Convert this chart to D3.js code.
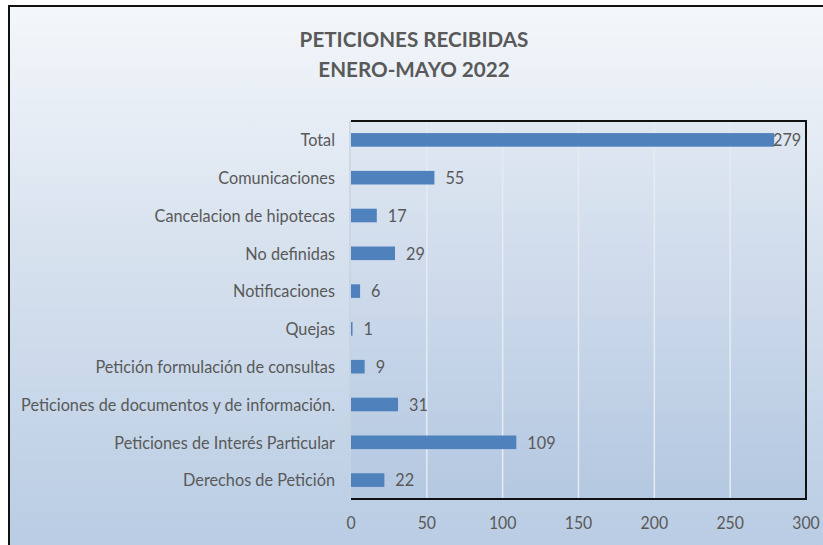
<!DOCTYPE html>
<html>
<head>
<meta charset="utf-8">
<script src="https://cdn.jsdelivr.net/npm/d3@7"></script>
<style>
  body { margin: 0; background: #fff; }
  svg { display: block; }
</style>
</head>
<body>
<svg id="chart" width="823" height="545"></svg>
<script>
const titleLines = ['PETICIONES RECIBIDAS', 'ENERO-MAYO 2022']
const categories = [
    'Total',
    'Comunicaciones',
    'Cancelacion de hipotecas',
    'No definidas',
    'Notificaciones',
    'Quejas',
    'Petición formulación de consultas',
    'Peticiones de documentos y de información.',
    'Peticiones de Interés Particular',
    'Derechos de Petición'
]
const values = [279, 55, 17, 29, 6, 1, 9, 31, 109, 22]
const xTicks = [0, 50, 100, 150, 200, 250, 300]

const svg = d3.select('#chart')
const font = 'Lato, "Open Sans", sans-serif'
const textColor = '#595959'
const plot = { left: 351, right: 806, top: 121, bottom: 499 }

// gradients
const defs = svg.append('defs')
const bgGrad = defs.append('linearGradient').attr('id', 'bg').attr('x1', 0).attr('y1', 0).attr('x2', 0).attr('y2', 1)
bgGrad.append('stop').attr('offset', '0%').attr('stop-color', '#f4f7fb')
bgGrad.append('stop').attr('offset', '40%').attr('stop-color', '#d9e3ef')
bgGrad.append('stop').attr('offset', '100%').attr('stop-color', '#b7cbe3')

const plotGrad = defs.append('linearGradient').attr('id', 'plotbg').attr('x1', 0).attr('y1', 0).attr('x2', 0).attr('y2', 1)
plotGrad.append('stop').attr('offset', '0%').attr('stop-color', '#e0e8f2')
plotGrad.append('stop').attr('offset', '100%').attr('stop-color', '#b4c8e1')

// chart area with outer border (left and top edges visible)
svg.append('rect')
    .attr('x', 9).attr('y', 6)
    .attr('width', 830).attr('height', 560)
    .attr('fill', 'url(#bg)')
    .attr('stroke', '#111')
    .attr('stroke-width', 2)

// title
const titleStretch = 0.96
svg.append('g')
    .selectAll('text')
    .data(titleLines)
    .join('text')
    .attr('transform', (d, i) => `translate(414,${47 + i * 30}) scale(${titleStretch},1)`)
    .attr('text-anchor', 'middle')
    .style('font-family', font)
    .style('font-weight', 'bold')
    .style('font-size', '21.5px')
    .attr('fill', textColor)
    .text(d => d)

const x = d3.scaleLinear()
    .domain([0, 300])
    .range([plot.left, plot.right])

const pad = 0.64
const y = d3.scaleBand()
    .domain(categories)
    .range([plot.top, plot.bottom])
    .paddingInner(pad)
    .paddingOuter(pad / 2)

// plot area
svg.append('rect')
    .attr('x', plot.left).attr('y', plot.top)
    .attr('width', plot.right - plot.left).attr('height', plot.bottom - plot.top)
    .attr('fill', 'url(#plotbg)')

// gridlines
svg.append('g')
    .selectAll('line')
    .data(xTicks.filter(t => t > 0 && t < 300))
    .join('line')
    .attr('x1', d => x(d)).attr('x2', d => x(d))
    .attr('y1', plot.top).attr('y2', plot.bottom)
    .attr('stroke', '#e6ebf2')
    .attr('stroke-width', 1.5)

// plot border: dark top, right, bottom; light left axis
svg.append('path')
    .attr('d', `M${plot.left},${plot.top}H${plot.right}V${plot.bottom}H${plot.left}`)
    .attr('fill', 'none')
    .attr('stroke', '#111')
    .attr('stroke-width', 2)

svg.append('line')
    .attr('x1', plot.left - 1).attr('x2', plot.left - 1)
    .attr('y1', plot.top).attr('y2', plot.bottom)
    .attr('stroke', '#c9d2de')
    .attr('stroke-width', 1.5)

// bars
const rows = categories.map((c, i) => ({ name: c, value: values[i] }))

svg.append('g')
    .selectAll('rect')
    .data(rows)
    .join('rect')
    .attr('x', x(0))
    .attr('y', d => y(d.name))
    .attr('width', d => Math.max(1, x(d.value) - x(0)))
    .attr('height', y.bandwidth())
    .attr('fill', '#4f81bd')

// value labels
const labelSize = 17.5
const stretch = 0.93
svg.append('g')
    .selectAll('text')
    .data(rows)
    .join('text')
    .attr('transform', d => {
        let tx = x(d.value) + 11
        if (tx + 27 > plot.right) tx = plot.right - 33
        return `translate(${tx},${y(d.name) + y.bandwidth() / 2}) scale(${stretch},1)`
    })
    .attr('dy', '0.36em')
    .style('font-family', font)
    .style('font-size', labelSize + 'px')
    .attr('fill', textColor)
    .text(d => d.value)

// category labels
svg.append('g')
    .selectAll('text')
    .data(rows)
    .join('text')
    .attr('transform', d => `translate(335,${y(d.name) + y.bandwidth() / 2}) scale(${stretch},1)`)
    .attr('dy', '0.36em')
    .attr('text-anchor', 'end')
    .style('font-family', font)
    .style('font-size', labelSize + 'px')
    .attr('fill', textColor)
    .text(d => d.name)

// x tick labels
svg.append('g')
    .selectAll('text')
    .data(xTicks)
    .join('text')
    .attr('transform', d => `translate(${x(d)},529) scale(${stretch},1)`)
    .attr('text-anchor', 'middle')
    .style('font-family', font)
    .style('font-size', '17px')
    .attr('fill', textColor)
    .text(d => d)
</script>
</body>
</html>
